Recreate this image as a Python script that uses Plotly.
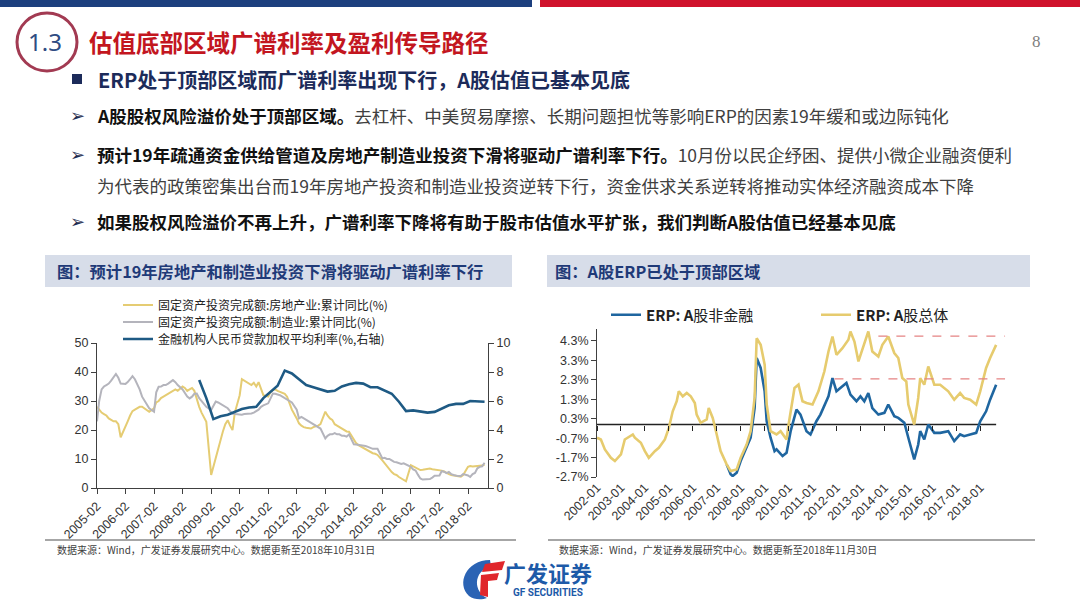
import plotly.graph_objects as go

W, H = 1080, 608
def px(x): return x / W
def py(y): return 1 - y / H

# ---------------- Left chart data ----------------
fai_months = [f"{y}-{m:02d}" for y in range(2005, 2019) for m in range(2, 13)][:-3]
re_fai = [
    28, 27, 26, 25.5, 25, 24, 23.5, 23, 23, 22, 17.5,            # 2005
    21, 23, 25, 26.5, 27, 27.5, 28, 28, 27.5, 27, 26.3,          # 2006
    27.5, 29.5, 30, 31, 31.5, 32, 32.5, 33, 33.5, 34, 33.5,      # 2007
    35, 34.5, 33.5, 34, 34.5, 33.5, 30.5, 28, 26, 24.5, 22.8,    # 2008
    4.5, 7.5, 10.5, 13.5, 16.5, 19.5, 22, 23.4, 21.5, 20, 26,    # 2009
    32, 37.5, 37, 36.5, 36, 35.5, 36.3, 35, 36.5, 34, 32,        # 2010
    31.5, 33, 33.8, 34, 33.5, 33.2, 33, 32.5, 31.5, 29, 27,      # 2011
    24, 22.3, 21.5, 21, 20.8, 20.6, 20.5, 21, 21.2, 21.5, 22,    # 2012
    26.3, 25, 24, 23.5, 22, 21.5, 21, 20.5, 20, 19.5, 19.4,      # 2013
    16.5, 15.5, 14.8, 14.3, 13.8, 13.3, 13, 12.5, 12, 11.8, 11.4,  # 2014
    9.5, 8.5, 7.5, 6.5, 5.5, 4.8, 4.5, 3.8, 3.2, 2.7, 2.3,       # 2015
    7.9, 7.5, 7, 6.5, 6.2, 6.3, 6.5, 6.7, 6.7, 6.5, 6.4,         # 2016
    6.2, 6.0, 5.7, 5.2, 4.8, 4.5, 4.3, 4.2, 4.0, 3.9, 4.5,       # 2017
    7.3, 7.6, 7.4, 7.5, 7.5, 7.7, 7.8, 7.9,                      # 2018
]
mfg_fai = [
    23, 30, 34, 35, 35.5, 36, 37, 38, 39.3, 38, 36,              # 2005
    35.9, 36.5, 37.5, 38.6, 37.5, 36, 34, 31.5, 30.3, 29, 27.5,  # 2006
    26.3, 33, 34.9, 35, 35.5, 35.5, 36, 36.5, 37.2, 36.5, 35.5,  # 2007
    34, 32.6, 31.5, 30.9, 31.5, 32.5, 32.6, 31, 30, 29.2, 28,    # 2008
    26.9, 28.5, 29.8, 29.5, 29, 28.5, 28, 27.5, 26.5, 25.7, 25.5,  # 2009
    25.2, 25.3, 25.5, 25.5, 25.7, 25.7, 26, 26.5, 27, 28, 28.5,  # 2010
    29.2, 31, 32.6, 32.5, 32.3, 32, 31.5, 31, 30.5, 30, 29.5,    # 2011
    27, 24, 24.5, 24, 23.5, 23, 22.3, 22, 21.5, 21, 20.5,        # 2012
    17.1, 18, 18.5, 18.5, 18.9, 18.5, 18.5, 18, 18, 17.7, 18.5,  # 2013
    15.1, 15, 14.9, 14.9, 14.8, 14.5, 14.2, 13.7, 13.5, 13.5, 13.5,  # 2014
    10.2, 10.4, 10, 10, 9.5, 9, 8.9, 8.5, 8.3, 8.5, 8.1,         # 2015
    7.3, 6.4, 6.0, 4.6, 3.3, 2.9, 3.0, 3.1, 3.1, 3.6, 4.2,       # 2016
    4.3, 5.8, 5.6, 5.1, 5.5, 4.8, 4.5, 4.2, 4.1, 4.1, 4.8,       # 2017
    4.3, 3.8, 4.8, 5.2, 6.8, 7.3, 7.5, 8.7,                      # 2018
]
rate_quarters = ["2008-09", "2008-12",
                 "2009-03", "2009-06", "2009-09", "2009-12",
                 "2010-03", "2010-06", "2010-09", "2010-12",
                 "2011-03", "2011-06", "2011-09", "2011-12",
                 "2012-03", "2012-06", "2012-09", "2012-12",
                 "2013-03", "2013-06", "2013-09", "2013-12",
                 "2014-03", "2014-06", "2014-09", "2014-12",
                 "2015-03", "2015-06", "2015-09", "2015-12",
                 "2016-03", "2016-06", "2016-09", "2016-12",
                 "2017-03", "2017-06", "2017-09", "2017-12",
                 "2018-03", "2018-06", "2018-09"]
loan_rate = [7.45, 6.2,
             4.75, 4.95, 5.05, 5.25,
             5.45, 5.55, 5.6, 6.2,
             6.6, 7.05, 8.1, 7.9,
             7.5, 7.1, 6.95, 6.8,
             6.65, 6.7, 7.0, 7.15,
             7.25, 7.2, 6.95, 6.95,
             6.75, 6.5, 5.95, 5.3,
             5.35, 5.3, 5.2, 5.25,
             5.5, 5.7, 5.8, 5.8,
             6.0, 5.95, 5.95]
fai_ticks = [f"{y}-02" for y in range(2005, 2019)]

# ---------------- Right chart data ----------------
erp_total_dates = ["2002-01", "2002-03", "2002-05", "2002-08", "2002-10",
                   "2003-01", "2003-03", "2003-07", "2003-08", "2003-11",
                   "2004-01", "2004-03", "2004-06", "2004-08", "2004-11",
                   "2005-01", "2005-03", "2005-05", "2005-06", "2005-08", "2005-10", "2005-12",
                   "2006-02", "2006-03", "2006-05", "2006-08", "2006-09", "2006-11",
                   "2007-01", "2007-03", "2007-06", "2007-08", "2007-11",
                   "2008-01", "2008-04", "2008-06", "2008-08", "2008-09", "2008-11",
                   "2009-01", "2009-02", "2009-04", "2009-07", "2009-09", "2009-12",
                   "2010-01", "2010-04", "2010-06", "2010-08", "2010-10",
                   "2011-01", "2011-04", "2011-07", "2011-09", "2011-11",
                   "2012-01", "2012-04", "2012-07", "2012-08", "2012-10", "2012-12",
                   "2013-02", "2013-05", "2013-07", "2013-10", "2013-12",
                   "2014-03", "2014-06", "2014-08", "2014-10", "2014-12",
                   "2015-01", "2015-04", "2015-06", "2015-07", "2015-09", "2015-11",
                   "2016-02", "2016-05", "2016-09", "2016-12",
                   "2017-03", "2017-05", "2017-08", "2017-11",
                   "2018-01", "2018-04", "2018-06", "2018-09"]
erp_total = [-0.68, -0.77, -1.28, -1.71, -1.88,
             -1.54, -0.77, -0.51, -0.68, -0.94,
             -1.37, -1.71, -1.37, -1.2, -0.77,
             -0.17, 0.68, 1.2, 1.71, 1.45, 1.62, 1.45,
             1.11, 0.51, 0.09, 0.26, 0.85, 0.34,
             -0.51, -1.37, -2.05, -2.39, -2.31,
             -1.71, -1.03, -0.34, 1.37, 4.44, 4.1,
             3.08, 1.03, -0.34, -0.51, -0.34, -0.77,
             0.0, 1.88, 2.05, 1.2, 1.11,
             1.03, 1.71, 2.74, 3.76, 4.53,
             3.59, 3.93, 4.36, 4.79, 4.27, 3.25,
             3.93, 4.79, 3.76, 3.5, 4.1,
             4.53, 3.68, 3.42, 2.39, 2.22,
             1.03, 0.0, 1.37, 2.39, 2.05, 2.99,
             2.05, 2.05, 1.71, 1.28,
             1.62, 1.37, 1.28, 1.03,
             1.71, 2.91, 3.42, 4.1]
erp_nonfin_dates = ["2007-06", "2007-08", "2007-09", "2007-11",
                    "2008-01", "2008-04", "2008-06", "2008-08", "2008-09", "2008-11",
                    "2009-01", "2009-02", "2009-04", "2009-06", "2009-07", "2009-10", "2009-12",
                    "2010-02", "2010-05", "2010-07", "2010-10", "2010-12",
                    "2011-03", "2011-05", "2011-09", "2011-11",
                    "2012-01", "2012-04", "2012-06", "2012-08", "2012-11",
                    "2013-01", "2013-03", "2013-05", "2013-07", "2013-10",
                    "2014-01", "2014-03", "2014-06", "2014-08", "2014-11",
                    "2015-01", "2015-04", "2015-06", "2015-07", "2015-09", "2015-11",
                    "2016-02", "2016-05", "2016-09", "2016-12",
                    "2017-03", "2017-05", "2017-08", "2017-11",
                    "2018-01", "2018-04", "2018-06", "2018-09"]
erp_nonfin = [-2.05, -2.56, -2.65, -2.48,
              -1.88, -1.2, -0.68, 0.85, 3.42, 2.91,
              1.71, 0.17, -0.68, -1.37, -1.28, -1.62, -1.45,
              -0.34, 0.77, 0.51, -0.34, -0.51,
              0.17, 0.51, 1.45, 2.39,
              1.71, 1.97, 2.14, 1.54, 1.2,
              1.45, 1.2, 1.62, 0.85, 0.51,
              0.6, 1.03, 0.43, 0.34, 0.09,
              -0.68, -1.79, -1.03, -0.34, -0.77, 0.0,
              -0.43, -0.43, -0.34, -0.85,
              -0.51, -0.6, -0.51, -0.43,
              0.17, 0.68, 1.28, 2.05]
erp_ticks = [f"{y}-01" for y in range(2002, 2019)]
erp_yticks = [-2.7, -1.7, -0.7, 0.3, 1.3, 2.3, 3.3, 4.3]
erp_total_peak = 4.55      # red dashed reference level (total)
erp_total_peak_from = "2013-10"
erp_nonfin_peak = 2.35     # red dashed reference level (non-financial)
erp_nonfin_peak_from = "2011-12"
dash_end = "2019-01-15"

# ---------------- Figure ----------------
fig = go.Figure()
fig.add_trace(go.Scatter(x=fai_months, y=re_fai, mode="lines",
                         name="固定资产投资完成额:房地产业:累计同比(%)",
                         line=dict(color="#E5CC73", width=2),
                         xaxis="x", yaxis="y", legend="legend"))
fig.add_trace(go.Scatter(x=fai_months, y=mfg_fai, mode="lines",
                         name="固定资产投资完成额:制造业:累计同比(%)",
                         line=dict(color="#B4B4BC", width=2),
                         xaxis="x", yaxis="y", legend="legend2"))
fig.add_trace(go.Scatter(x=rate_quarters, y=loan_rate, mode="lines",
                         name="金融机构人民币贷款加权平均利率(%,右轴)",
                         line=dict(color="#1E5A84", width=2.6),
                         xaxis="x", yaxis="y2", legend="legend3"))
fig.add_trace(go.Scatter(x=erp_nonfin_dates, y=erp_nonfin, mode="lines",
                         name="<b>ERP: A</b>股非金融",
                         line=dict(color="#1F66A0", width=2.6),
                         xaxis="x2", yaxis="y3", legend="legend4"))
fig.add_trace(go.Scatter(x=erp_total_dates, y=erp_total, mode="lines",
                         name="<b>ERP: A</b>股总体",
                         line=dict(color="#E6CB6E", width=2.6),
                         xaxis="x2", yaxis="y3", legend="legend5"))
fig.add_trace(go.Scatter(x=[erp_ticks[0]], y=[None], mode="lines",
                         xaxis="x3", yaxis="y3", showlegend=False, hoverinfo="skip"))

tickfont = dict(family="Liberation Sans, Arial", size=12.5, color="#333333")
axcommon = dict(showgrid=False, zeroline=False, showline=True, linecolor="#404040",
                linewidth=1, ticks="outside", ticklen=5, tickcolor="#404040",
                tickfont=tickfont, automargin=False)

x_right_range = ["2002-01-01", "2019-03-01"]

fig.update_layout(
    width=W, height=H, margin=dict(l=0, r=0, t=0, b=0, pad=0, autoexpand=False),
    paper_bgcolor="white", plot_bgcolor="rgba(0,0,0,0)",
    hovermode=False,
    xaxis=dict(domain=[px(97), px(488)], anchor="y", type="date",
               range=["2005-02-01", "2018-10-15"],
               tickmode="array", tickvals=fai_ticks, ticktext=fai_ticks,
               tickangle=-45, **axcommon),
    yaxis=dict(domain=[py(488), py(343)], anchor="x", range=[0, 50], dtick=10,
               **axcommon),
    yaxis2=dict(overlaying="y", side="right", anchor="x", range=[0, 10], dtick=2,
                **axcommon),
    xaxis2=dict(domain=[px(597), px(1008)], anchor="y3", type="date",
                range=x_right_range, tickmode="array", tickvals=erp_ticks,
                ticktext=erp_ticks, tickangle=-45, showgrid=False, zeroline=False,
                showline=False, ticks="", tickfont=tickfont, automargin=False),
    xaxis3=dict(overlaying="x2", anchor="free", position=py(424.5), type="date",
                range=x_right_range, tickmode="array", tickvals=erp_ticks,
                showticklabels=False, showgrid=False, zeroline=False, showline=False,
                ticks="outside", ticklen=5, tickcolor="#222222", automargin=False),
    yaxis3=dict(domain=[py(477), py(329.3)], anchor="x2", range=[-2.7, 4.9],
                tickmode="array", tickvals=erp_yticks,
                ticktext=[f"{v:.1f}%" for v in erp_yticks], **axcommon),
)

legfont = dict(family="Noto Sans CJK SC", size=12, color="#222222")
for name, yy in (("legend", 305), ("legend2", 322), ("legend3", 339)):
    fig.update_layout({name: dict(x=px(118), y=py(yy), xanchor="left", yanchor="middle",
                                  bgcolor="rgba(0,0,0,0)", font=legfont, itemwidth=30)})
legfont2 = dict(family="Noto Sans CJK SC", size=15, color="#222222")
for name, xx in (("legend4", 606), ("legend5", 816)):
    fig.update_layout({name: dict(x=px(xx), y=py(315), xanchor="left", yanchor="middle",
                                  bgcolor="rgba(0,0,0,0)", font=legfont2, itemwidth=30)})

shapes = []
def rect(x0, y0, x1, y1, color, line=None):
    shapes.append(dict(type="rect", xref="paper", yref="paper",
                       x0=px(x0), x1=px(x1), y0=py(y1), y1=py(y0),
                       fillcolor=color, line=dict(width=0) if line is None else line,
                       layer="below"))
def hline_px(x0, x1, y, color, width):
    shapes.append(dict(type="line", xref="paper", yref="paper",
                       x0=px(x0), x1=px(x1), y0=py(y), y1=py(y),
                       line=dict(color=color, width=width)))
def path_px(points, color):
    d = "M " + " L ".join(f"{px(a):.5f},{py(b):.5f}" for a, b in points) + " Z"
    shapes.append(dict(type="path", xref="paper", yref="paper", path=d,
                       fillcolor=color, line=dict(width=0)))
def cpath_px(cmds, color):
    parts = []
    for c, pts in cmds:
        parts.append(c + " " + " ".join(f"{px(a):.5f},{py(b):.5f}" for a, b in pts))
    shapes.append(dict(type="path", xref="paper", yref="paper",
                       path=" ".join(parts) + " Z", fillcolor=color, line=dict(width=0)))

# top bars
rect(0, 0, 532, 7, "#1C3F7E")
rect(540, 0, 1080, 7, "#D0122C")
# title circle
shapes.append(dict(type="circle", xref="paper", yref="paper",
                   x0=px(17), x1=px(77), y0=py(71), y1=py(13),
                   line=dict(color="#A23A52", width=3)))
# header square
rect(72, 74, 82, 84, "#1C2B5A")
# chart title bands
rect(45, 255, 512, 287, "#D7DDE9")
rect(547, 255, 1030, 287, "#D7DDE9")
# bottom rules
hline_px(45, 516, 540, "#A6A6A6", 2)
hline_px(548, 1035, 540, "#A6A6A6", 2)
# zero line (right chart)
shapes.append(dict(type="line", xref="x2", yref="y3", x0=erp_total_dates[0],
                   x1=erp_total_dates[-1], y0=0, y1=0,
                   line=dict(color="#222222", width=1.5), layer="below"))
# red dashed reference levels
shapes.append(dict(type="line", xref="x2", yref="y3", x0=erp_total_peak_from, x1=dash_end,
                   y0=erp_total_peak, y1=erp_total_peak,
                   line=dict(color="#E58383", width=1.3, dash="dash")))
shapes.append(dict(type="line", xref="x2", yref="y3", x0=erp_nonfin_peak_from, x1=dash_end,
                   y0=erp_nonfin_peak, y1=erp_nonfin_peak,
                   line=dict(color="#E58383", width=1.3, dash="dash")))
# logo icon
cpath_px([("M", [(490, 560)]), ("C", [(466, 560), (456, 584), (469, 596)]),
          ("C", [(474, 600), (482, 600), (487, 598)]),
          ("C", [(474, 592), (472, 572), (491, 566)])], "#2A63B4")
path_px([(485, 564), (505, 561), (502, 570), (482, 572)], "#E0262C")
path_px([(481, 575), (499, 573), (497, 580), (488, 581), (488, 597), (480, 595)], "#E0262C")

fig.update_layout(shapes=shapes)

ann = []
def text(x, y, s, size, color, family="Noto Sans CJK SC", xanchor="left", yanchor="middle"):
    ann.append(dict(x=px(x), y=py(y), xref="paper", yref="paper", text=s, showarrow=False,
                    xanchor=xanchor, yanchor=yanchor,
                    font=dict(family=family, size=size, color=color)))

text(45, 42, "1.3", 24, "#2E4C82", family="Noto Sans", xanchor="center")
text(87, 42, "<b>估值底部区域广谱利率及盈利传导路径</b>", 23.5, "#C3161F")
text(1036, 41, "8", 17, "#808080", family="Liberation Serif", xanchor="center")
text(96, 79, "<b>ERP处于顶部区域而广谱利率出现下行，A股估值已基本见底</b>", 20, "#1C2B5A")
for yy in (115, 154, 221):
    text(78, yy, "➢", 18, "#1F2D50", family="DejaVu Sans", xanchor="center")
body = "#404040"
text(95, 115, "<b><span style='color:#111111'>A股股权风险溢价处于顶部区域。</span></b>"
     "去杠杆、中美贸易摩擦、长期问题担忧等影响ERP的因素19年缓和或边际钝化", 17.5, body)
text(95, 154, "<b><span style='color:#111111'>预计19年疏通资金供给管道及房地产制造业投资下滑将驱动广谱利率下行。</span></b>"
     "10月份以民企纾困、提供小微企业融资便利", 17.5, body)
text(95, 185, "为代表的政策密集出台而19年房地产投资和制造业投资逆转下行，资金供求关系逆转将推动实体经济融资成本下降",
     17.5, body)
text(95, 221, "<b>如果股权风险溢价不再上升，广谱利率下降将有助于股市估值水平扩张，我们判断A股估值已经基本见底</b>",
     17.5, "#111111")
text(55, 271, "<b>图：预计19年房地产和制造业投资下滑将驱动广谱利率下行</b>", 16.3, "#1F3A78")
text(553, 271, "<b>图：A股ERP已处于顶部区域</b>", 16.3, "#1F3A78")
text(55, 549, "数据来源：Wind，广发证券发展研究中心。数据更新至2018年10月31日", 10, "#404040")
text(557, 549, "数据来源：Wind，广发证券发展研究中心。数据更新至2018年11月30日", 10, "#404040")
text(548, 572, "<b>广发证券</b>", 22, "#1D5AA8", xanchor="center")
text(548, 592, "<b>GF SECURITIES</b>", 10, "#1D5AA8", family="Roboto", xanchor="center")

fig.update_layout(annotations=ann)

fig.write_html("out.html", config={"displayModeBar": False},
               post_script="document.body.style.margin='0px';"
                           "document.body.style.overflow='hidden';")
